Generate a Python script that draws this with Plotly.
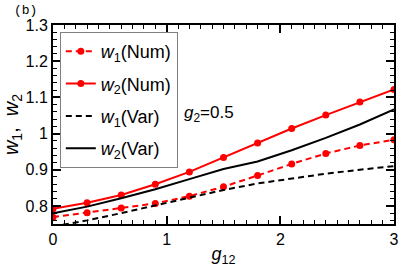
import plotly.graph_objects as go

g12 = [0.0, 0.3, 0.6, 0.9, 1.2, 1.5, 1.8, 2.1, 2.4, 2.7, 3.0]
w1_num = [0.769, 0.781, 0.794, 0.807, 0.827, 0.853, 0.884, 0.916, 0.945, 0.967, 0.983]
w2_num = [0.792, 0.809, 0.830, 0.860, 0.894, 0.934, 0.974, 1.014, 1.051, 1.087, 1.122]
w1_var = [0.743, 0.760, 0.780, 0.802, 0.824, 0.844, 0.862, 0.876, 0.889, 0.900, 0.910]
w2_var = [0.780, 0.798, 0.821, 0.846, 0.874, 0.902, 0.923, 0.954, 0.988, 1.025, 1.067]

xticks = [0, 1, 2, 3]
xtick_text = ["0", "1", "2", "3"]
yticks = [0.8, 0.9, 1.0, 1.1, 1.2, 1.3]
ytick_text = ["0.8", "0.9", "1", "1.1", "1.2", "1.3"]

FONT = "Liberation Sans, Arial, sans-serif"
RED = "#ff0000"

fig = go.Figure()
fig.add_trace(go.Scatter(x=g12, y=w1_num, mode="lines+markers",
                         name="<i>w</i><sub>1</sub>(Num)", legendgroup="a",
                         line=dict(color=RED, width=2, dash="6px,4px"),
                         marker=dict(color=RED, size=7)))
fig.add_trace(go.Scatter(x=g12, y=w2_num, mode="lines+markers",
                         name="<i>w</i><sub>2</sub>(Num)", legendgroup="b",
                         line=dict(color=RED, width=2),
                         marker=dict(color=RED, size=7)))
fig.add_trace(go.Scatter(x=g12, y=w1_var, mode="lines",
                         name="<i>w</i><sub>1</sub>(Var)", legendgroup="c",
                         line=dict(color="black", width=2, dash="6px,4px")))
fig.add_trace(go.Scatter(x=g12, y=w2_var, mode="lines",
                         name="<i>w</i><sub>2</sub>(Var)", legendgroup="d",
                         line=dict(color="black", width=2)))

axis_common = dict(showline=True, linecolor="black", linewidth=2, mirror="ticks",
                   ticks="inside", ticklen=8, tickwidth=1.5, tickcolor="black",
                   showgrid=False, zeroline=False,
                   tickfont=dict(family=FONT, size=16, color="black"))

fig.update_xaxes(range=[0, 3], tickvals=xticks, ticktext=xtick_text,
                 minor=dict(ticks="inside", ticklen=4, dtick=0.1, tickwidth=1, tickcolor="black"),
                 title=dict(text="<i>g</i><sub>12</sub>", font=dict(family=FONT, size=18, color="black"),
                            standoff=0),
                 **axis_common)
fig.update_yaxes(range=[0.75, 1.3], tickvals=yticks, ticktext=ytick_text,
                 minor=dict(ticks="inside", ticklen=4, dtick=0.02, tickwidth=1, tickcolor="black"),
                 title=dict(text="<i>w</i><sub>1</sub>,  <i>w</i><sub>2</sub>",
                            font=dict(family=FONT, size=20, color="black"), standoff=2),
                 **axis_common)

fig.add_annotation(x=0.377, y=0.555, xref="paper", yref="paper",
                   text="<i>g</i><sub>2</sub>=0.5", showarrow=False,
                   xanchor="left", yanchor="middle",
                   font=dict(family=FONT, size=17, color="black"))
fig.add_annotation(x=(11 - 53) / 346, y=1 + 14 / 199, xref="paper", yref="paper",
                   text="(b)", showarrow=False, xanchor="left", yanchor="middle",
                   font=dict(family="Liberation Mono, DejaVu Sans Mono, monospace", size=13, color="black"))

fig.update_layout(
    width=407, height=280,
    margin=dict(l=53, r=8, t=25, b=56),
    paper_bgcolor="white", plot_bgcolor="white",
    font=dict(family=FONT, color="black"),
    legend=dict(x=0.02, y=0.965, xanchor="left", yanchor="top",
                bgcolor="white", bordercolor="#808080", borderwidth=1,
                font=dict(family=FONT, size=18, color="black"),
                traceorder="grouped", tracegroupgap=6),
)

fig.write_html("out.html", config={"displayModeBar": False},
               post_script="document.body.style.margin='0';")
